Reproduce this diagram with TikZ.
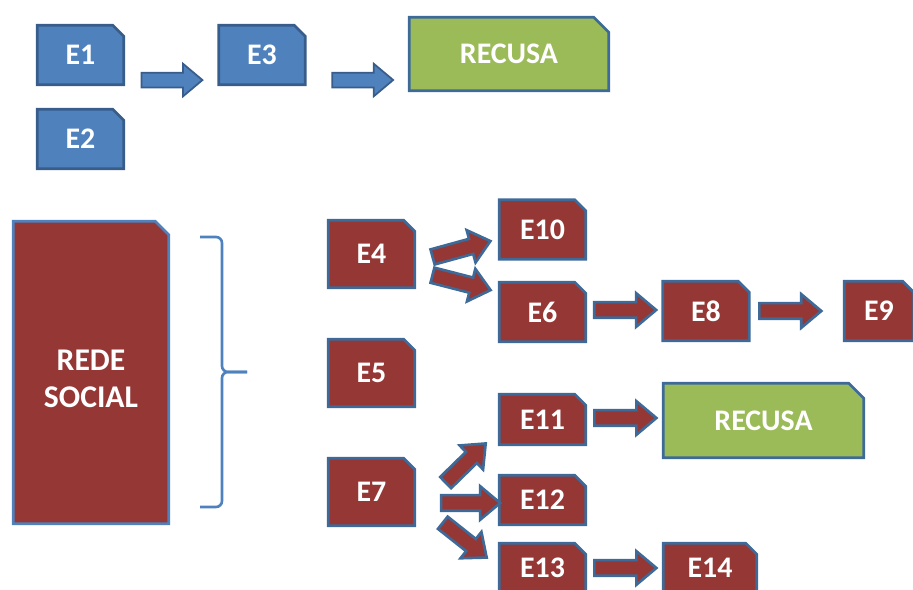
\documentclass[tikz,border=0pt]{standalone}
\usepackage{fontspec}
\setmainfont{Carlito}
\usetikzlibrary{positioning}
\usetikzlibrary{shapes.misc}
\usetikzlibrary{shapes.arrows}
\definecolor{boxred}{HTML}{953735}
\definecolor{boxblue}{HTML}{4F81BD}
\definecolor{boxgreen}{HTML}{9BBB59}
\definecolor{edgeblue}{HTML}{3D6A99}
\definecolor{darkblue}{HTML}{385D8A}
\tikzset{snip/.style = {chamfered rectangle, chamfered rectangle corners = north east, chamfered rectangle sep = 0.11cm, inner sep = 0, line width = 1.5pt, text = white, font = \fontsize{17}{20}\selectfont\bfseries}}
\tikzset{eblue/.style = {snip, fill = boxblue, draw = darkblue, minimum width = 1.73cm, minimum height = 1.19cm}}
\tikzset{ered/.style = {snip, fill = boxred, draw = edgeblue, minimum width = 1.73cm, minimum height = 1.19cm}}
\tikzset{egreen/.style = {snip, fill = boxgreen, draw = edgeblue, chamfered rectangle sep = 0.15cm}}
\tikzset{blockarrow/.style = {single arrow, inner xsep = 0, inner ysep = 0.13cm, minimum width = 0.64cm, single arrow head extend = 0.18cm, single arrow tip angle = 80, single arrow head indent = 0, sloped}}
\tikzset{bluearrow/.style = {blockarrow, fill = boxblue, draw = darkblue, line width = 1pt}}
\tikzset{redarrow/.style = {blockarrow, fill = boxred, draw = edgeblue, line width = 1.5pt}}
\tikzset{bracket/.style = {draw = boxblue, line width = 1.5pt, rounded corners = 0.12cm}}

\begin{document}
\begin{tikzpicture}[x = 0.02cm, y = -0.02cm]

    \useasboundingbox (0, 0) rectangle (913, 590);

    \node [eblue] (e1) at (80.5, 55) {E1};
    \node [eblue] (e2) at (80.5, 139) {E2};
    \node [eblue] (e3) at (262, 55) {E3};
    \node [egreen, minimum width = 3.99cm, minimum height = 1.47cm] (rec1) at (509, 54) {RECUSA};

    \node [snip, fill = boxred, draw = boxblue, chamfered rectangle sep = 0.27cm, minimum width = 3.11cm, minimum height = 6.05cm, font = \fontsize{18}{21}\selectfont\bfseries] (rede) at (91, 372.5) {\raisebox{-0.34cm}[0pt][0pt]{\begin{tabular}{@{}c@{}}REDE\\SOCIAL\end{tabular}}};

    \node [ered, minimum height = 1.35cm] (e4) at (371.5, 254) {E4};
    \node [ered, minimum height = 1.35cm] (e5) at (371.5, 373) {E5};
    \node [ered, minimum height = 1.35cm] (e7) at (371.5, 492) {E7};

    \node [ered] (e10) at (542.5, 229.5) {E10};
    \node [ered] (e6) at (542.5, 312) {E6};
    \node [ered] (e8) at (706, 311) {E8};
    \node [ered, minimum width = 1.39cm] (e9) at (879, 311) {E9};

    \node [ered, minimum height = 1.01cm] (e11) at (542.5, 419.5) {E11};
    \node [ered, minimum height = 0.99cm] (e12) at (542.5, 500) {E12};
    \node [ered, minimum height = 0.99cm] (e13) at (542.5, 568) {E13};
    \node [egreen, minimum width = 4.01cm, minimum height = 1.49cm] (rec2) at (763.5, 420.5) {RECUSA};
    \node [ered, minimum width = 1.87cm, minimum height = 0.99cm] (e14) at (710, 568) {E14};

    \draw [bracket] (200, 237) -- (222, 237) -- (222, 372) -- (247, 372);
    \draw [bracket] (200, 507) -- (222, 507) -- (222, 372) -- (247, 372);

    \path ([yshift = 0.12cm]e1.south east) -- ([yshift = 0.12cm]e3.south west) node [bluearrow, pos = 0.46, minimum height = 1.22cm] {};
    \path ([yshift = 0.12cm]e3.south east) -- ([yshift = -0.52cm]rec1.west) node [bluearrow, pos = 0.51, minimum height = 1.22cm] {};

    \path ([yshift = -0.15cm]e4.east) -- ([yshift = -0.19cm]e10.west) node [redarrow, pos = 0.5, minimum height = 1.2cm] {};
    \path ([yshift = -0.34cm]e4.east) -- ([yshift = 0.4cm]e6.west) node [redarrow, pos = 0.5, minimum height = 1.2cm] {};
    \path ([yshift = 0.04cm]e6.east) -- ([yshift = 0.02cm]e8.west) node [redarrow, pos = 0.45, minimum height = 1.24cm] {};
    \path (e8.east) -- (e9.west) node [redarrow, pos = 0.38, minimum height = 1.24cm] {};

    \path ([yshift = -0.39cm]e7.east) -- ([yshift = -0.24cm]e11.west) node [redarrow, pos = 0.565, minimum height = 1.12cm] {};
    \path ([yshift = -0.22cm]e7.east) -- ([yshift = -0.06cm]e12.west) node [redarrow, pos = 0.61, minimum height = 1.18cm] {};
    \path ([yshift = -0.19cm]e7.east) -- ([yshift = 0.03cm]e13.west) node [redarrow, pos = 0.55, minimum height = 1.12cm] {};
    \path ([yshift = 0.03cm]e11.east) -- ([yshift = 0.05cm]rec2.west) node [redarrow, pos = 0.45, minimum height = 1.24cm] {};
    \path (e13.east) -- (e14.west) node [redarrow, pos = 0.45, minimum height = 1.24cm] {};
  \end{tikzpicture}
\end{document}
